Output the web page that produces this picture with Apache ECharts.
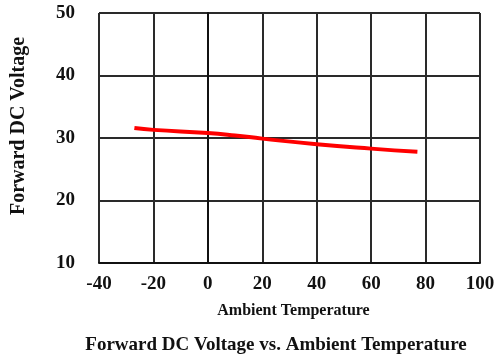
<!DOCTYPE html>
<html>
<head>
<meta charset="utf-8">
<script src="https://cdn.jsdelivr.net/npm/echarts@6/dist/echarts.min.js"></script>
<style>
  html, body { margin: 0; padding: 0; background: #fff; }
  #chart { width: 500px; height: 355px; }
</style>
</head>
<body>
<div id="chart"></div>
<script>
// temperature (C) and forward DC voltage
var temps = [-27, -20, 0, 10, 20, 40, 60, 77];
var volts = [31.6, 31.3, 30.8, 30.4, 29.9, 29.0, 28.3, 27.8];
var xTicks = [-40, 100, 20];   // min, max, step
var yTicks = [10, 50, 10];

var pts = temps.map(function (t, i) { return [t, volts[i]]; });
var serif = 'Liberation Serif';

var myChart = echarts.init(document.getElementById('chart'));
myChart.setOption({
  backgroundColor: '#fff',
  animation: false,
  title: {
    text: 'Forward DC Voltage vs. Ambient Temperature',
    left: 271, top: 331, textAlign: 'center',
    textStyle: { fontFamily: serif, fontWeight: 'bold', fontSize: 19, color: '#111' }
  },
  grid: { left: 99, right: 20, top: 13, bottom: 92 },
  xAxis: {
    type: 'value',
    min: xTicks[0], max: xTicks[1], interval: xTicks[2],
    name: 'Ambient Temperature',
    nameLocation: 'middle', nameGap: 40,
    nameTextStyle: { fontFamily: serif, fontWeight: 'bold', fontSize: 16, color: '#111', padding: [0, 0, 0, 8] },
    axisLine: { lineStyle: { color: '#111', width: 2 } },
    axisTick: { show: false },
    axisLabel: { margin: 12, fontFamily: serif, fontWeight: 'bold', fontSize: 19, color: '#111' },
    splitLine: { lineStyle: { color: '#2a2a2a', width: 2 } }
  },
  yAxis: {
    type: 'value',
    min: yTicks[0], max: yTicks[1], interval: yTicks[2],
    name: 'Forward DC Voltage',
    nameLocation: 'middle', nameGap: 70, nameRotate: 90,
    nameTextStyle: { fontFamily: serif, fontWeight: 'bold', fontSize: 20, color: '#111', padding: [0, 0, 0, 24] },
    axisLine: { show: true, lineStyle: { color: '#111', width: 2 } },
    axisTick: { show: false },
    axisLabel: { margin: 24, fontFamily: serif, fontWeight: 'bold', fontSize: 19, color: '#111' },
    splitLine: { lineStyle: { color: '#2a2a2a', width: 2 } }
  },
  series: [{
    type: 'line',
    data: pts,
    smooth: true,
    showSymbol: false,
    lineStyle: { color: '#f00', width: 4 }
  }]
});
</script>
</body>
</html>
